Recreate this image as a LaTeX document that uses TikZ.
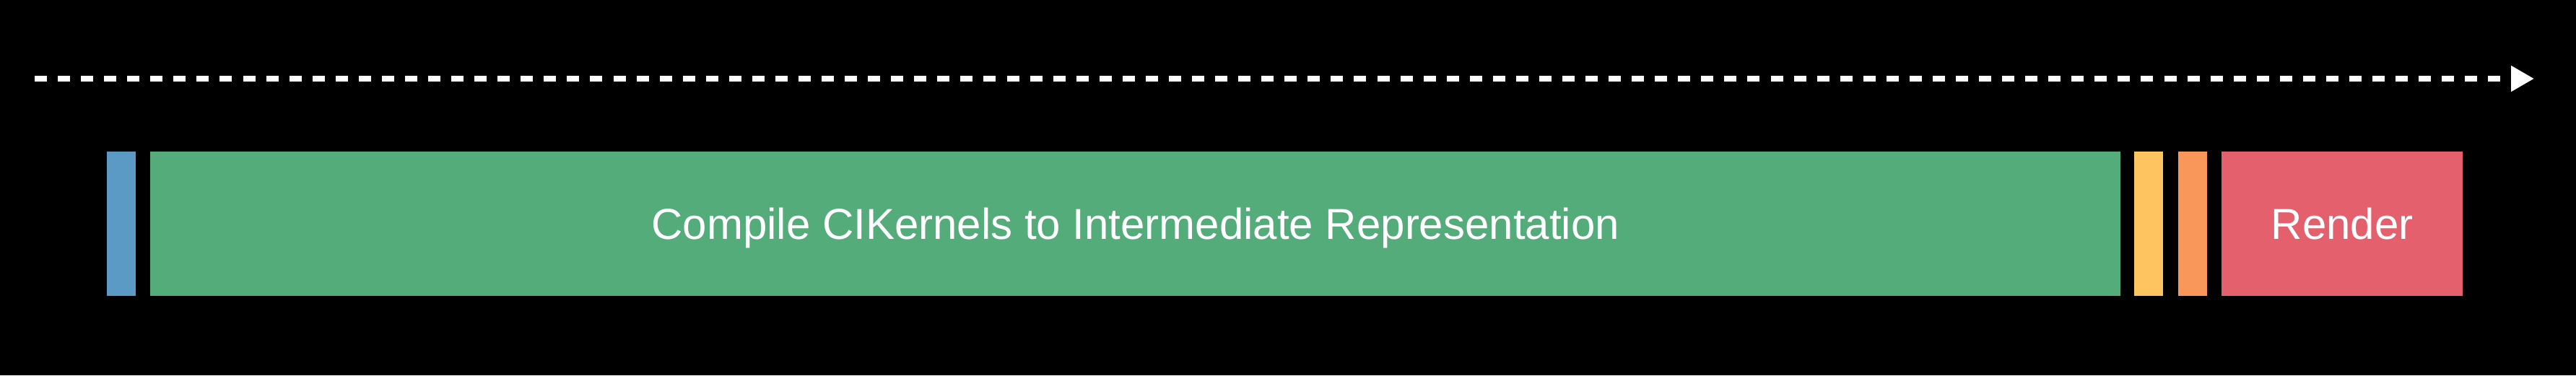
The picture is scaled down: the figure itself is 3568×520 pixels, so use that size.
\documentclass[tikz,border=0pt]{standalone}
\usepackage{fontspec}
\setmainfont{Liberation Sans}
\usetikzlibrary{arrows.meta}

\definecolor{parseblue}{RGB}{90,154,196}
\definecolor{compilegreen}{RGB}{85,172,123}
\definecolor{linkyellow}{RGB}{253,196,95}
\definecolor{optorange}{RGB}{249,150,90}
\definecolor{renderred}{RGB}{227,96,108}

\begin{document}
\begin{tikzpicture}[x=1pt,y=-1pt,
  stagebar/.style={rectangle,inner sep=0pt,minimum height=200pt,anchor=north west,
    text=white,text height=43pt,text depth=0pt,font=\fontsize{60}{72}\selectfont}]
  \fill[black] (0,0) rectangle (3568,520);
  \useasboundingbox (0,0) rectangle (3568,520);

  \coordinate (timestart) at (48,109);
  \coordinate (timeend) at (3510,109);
  \draw[white,line width=8pt,dash pattern=on 17pt off 15.06pt,
    -{Triangle[length=32pt,width=34pt]}] (timestart) -- (timeend);

  \node[stagebar,fill=parseblue,minimum width=40pt] (parse) at (148,210) {};
  \node[stagebar,fill=compilegreen,minimum width=2729pt] (compile) at (208,210)
    {Compile CIKernels to Intermediate Representation};
  \node[stagebar,fill=linkyellow,minimum width=40pt] (link) at (2956,210) {};
  \node[stagebar,fill=optorange,minimum width=40pt] (optimize) at (3017,210) {};
  \node[stagebar,fill=renderred,minimum width=334pt] (render) at (3077,210) {Render};
\end{tikzpicture}
\end{document}
